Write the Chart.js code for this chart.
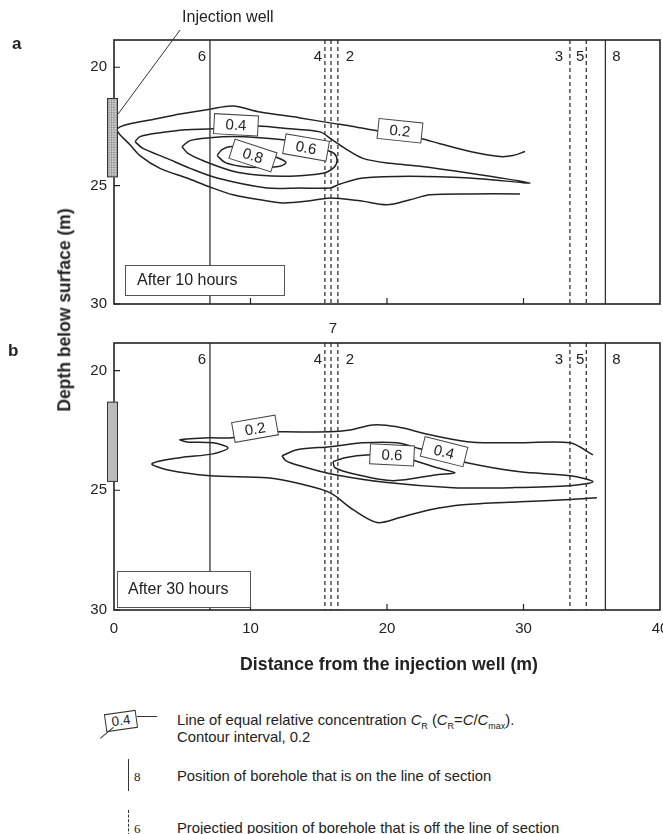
<!DOCTYPE html>
<html><head><meta charset="utf-8">
<script src="https://cdn.jsdelivr.net/npm/chart.js@4/dist/chart.umd.min.js"></script>
<style>
html,body{margin:0;padding:0;background:#fff;overflow:hidden;width:663px;height:834px;}
body{position:relative;font-family:"Liberation Sans",Arial,Helvetica,sans-serif;color:#222;}
canvas{position:absolute;left:0;}
#cA{top:0;}
#cB{top:320px;}
.t{position:absolute;white-space:nowrap;line-height:1;transform:translateY(-50%);}
.lg{font-size:14.8px;}
.sym{position:absolute;}
</style></head><body>
<canvas id="cA" width="680" height="320"></canvas>
<canvas id="cB" width="680" height="340"></canvas>

<div class="t" style="left:12px;top:43px;font-weight:bold;font-size:17px;">a</div>
<div class="t" style="left:8px;top:350px;font-weight:bold;font-size:17px;">b</div>

<div class="t" style="left:65px;top:310px;font-weight:bold;font-size:17.5px;transform:translate(-50%,-50%) rotate(-90deg);">Depth below surface (m)</div>
<div class="t" style="left:389px;top:665px;font-weight:bold;font-size:17.7px;transform:translate(-50%,-50%);">Distance from the injection well (m)</div>

<!-- legend -->
<div class="sym" style="left:105px;top:712px;width:30px;height:16px;border:1px solid #333;transform:rotate(-8deg);font-size:13.5px;line-height:16px;text-align:center;">0.4</div>
<div class="sym" style="left:137px;top:716px;width:20px;height:0;border-top:1.3px solid #333;"></div>
<div class="sym" style="left:100px;top:738px;width:17px;height:0;border-top:1.3px solid #333;transform-origin:0 0;transform:rotate(-40deg);"></div>
<div class="t lg" style="left:177px;top:720px;">Line of equal relative concentration <i>C</i><sub style="font-size:9px;line-height:0">R</sub> (<i>C</i><sub style="font-size:9px;line-height:0">R</sub>=<i>C</i>/<i>C</i><sub style="font-size:9px;line-height:0">max</sub>).</div>
<div class="t lg" style="left:177px;top:737px;">Contour interval, 0.2</div>

<div class="sym" style="left:128px;top:759px;width:0;height:32px;border-left:1.5px solid #333;"></div>
<div class="t" style="left:134px;top:776px;font-family:'Liberation Serif',serif;font-size:13px;">8</div>
<div class="t lg" style="left:177px;top:776px;">Position of borehole that is on the line of section</div>

<div class="sym" style="left:128px;top:810px;width:0;height:26px;border-left:1.5px dashed #333;"></div>
<div class="t" style="left:134px;top:828px;font-family:'Liberation Serif',serif;font-size:13px;">6</div>
<div class="t lg" style="left:177px;top:828px;">Projectied position of borehole that is off the line of section</div>

<script>
// ---------- axes ----------
const xTicks = [0, 10, 20, 30, 40];
const yTicks = [20, 25, 30];
const distMin = 0, distMax = 40;
const depthMin = 18.85, depthMax = 30;

// ---------- boreholes ----------
const boreholeIds = ['6', '4', '7', '2', '3', '5', '8'];
const boreholeX = [7.03, 15.45, 15.9, 16.4, 33.4, 34.6, 36.0];
const boreholeOnSection = [true, false, false, false, false, false, true];

// ---------- injection well screen (depth, m) ----------
const wellTop = 21.3, wellBottom = 24.65;

// ---------- panel a : after 10 hours ----------
const a02x = [30.11,29.23,28.28,26.08,23.88,22.56,20.95,19.27,17.29,15.82,13.63,10.70,8.72,7.03,4.84,2.64,1.17,0.44,0.22,0.44,1.17,1.90,3.37,5.35,7.03,8.72,10.70,12.38,14.36,15.82,18.02,20.00,21.68,23.15,26.08,29.74];
const a02y = [23.56,23.73,23.77,23.56,23.23,23.02,22.81,22.68,22.48,22.35,22.14,21.89,21.64,21.77,21.98,22.23,22.39,22.52,22.64,22.85,23.27,23.73,24.27,24.68,25.06,25.39,25.60,25.73,25.64,25.52,25.64,25.81,25.60,25.39,25.35,25.35];
const a04x = [1.54,1.90,3.37,5.20,7.25,8.94,10.55,12.89,15.09,15.97,16.92,18.24,20.22,22.42,26.08,30.48,26.08,21.68,18.24,16.56,15.82,13.63,11.21,7.55,5.57,3.88,2.12,1.54];
const a04y = [23.14,22.93,22.77,22.64,22.60,22.52,22.48,22.60,22.73,23.06,23.43,23.85,24.06,24.18,24.48,24.89,24.68,24.60,24.68,24.93,25.10,25.10,25.10,24.68,24.27,23.85,23.43,23.14];
const a06x = [4.98,5.57,7.03,8.72,10.70,12.89,14.07,15.46,16.12,16.34,16.12,15.31,12.89,10.70,8.72,6.67,5.42,4.98];
const a06y = [23.35,23.10,22.98,22.93,22.98,23.10,23.27,23.48,23.64,23.93,24.23,24.48,24.60,24.56,24.39,23.98,23.64,23.35];
const a08x = [7.55,7.91,8.64,10.33,11.94,12.60,12.16,10.70,9.23,8.13,7.55];
const a08y = [23.73,23.48,23.35,23.52,23.81,24.02,24.18,24.23,24.18,24.02,23.73];
const aLabelText = ['0.4', '0.8', '0.6', '0.2'];
const aLabelX = [8.94, 10.18, 14.07, 20.95];
const aLabelY = [22.43, 23.73, 23.39, 22.68];

// ---------- panel b : after 30 hours ----------
const b02x = [35.09,33.41,29.74,26.08,23.15,20.73,18.97,17.29,15.82,12.01,10.33,8.64,7.03,4.84,5.35,7.25,8.35,7.25,4.84,2.78,3.88,7.03,11.21,13.63,15.82,17.51,19.27,20.95,23.15,25.57,29.74,33.41,35.38];
const b02y = [23.52,23.02,23.02,22.98,22.68,22.35,22.27,22.48,22.56,22.56,22.60,22.81,22.81,22.89,22.98,23.02,23.23,23.48,23.64,23.89,24.14,24.39,24.48,24.73,25.10,25.81,26.35,26.14,25.81,25.60,25.48,25.39,25.31];
const b04x = [12.31,13.41,15.82,18.24,20.73,22.42,24.25,25.86,29.74,33.41,35.09,33.41,29.23,24.84,20.00,15.82,13.63,12.60,12.31];
const b04y = [23.56,23.31,23.18,23.02,23.02,23.27,23.56,23.85,24.23,24.39,24.64,24.81,24.89,24.89,24.68,24.31,23.98,23.77,23.56];
const b06x = [16.04,16.92,18.75,20.59,22.05,23.66,24.98,23.66,20.44,17.51,16.19,16.04];
const b06y = [23.81,23.64,23.52,23.52,23.77,24.06,24.27,24.35,24.60,24.31,24.06,23.81];
const bLabelText = ['0.2', '0.6', '0.4'];
const bLabelX = [10.33, 20.37, 24.18];
const bLabelY = [22.43, 23.52, 23.39];

// ---------- drawing ----------
const INK = '#222';
Chart.defaults.font.family = "'Liberation Sans', Arial, Helvetica, sans-serif";
Chart.defaults.color = INK;

const pts = (xs, ys) => xs.map((v, i) => ({x: v, y: ys[i]}));

function boreholeSets() {
  return boreholeX.map((bx, i) => ({
    data: [{x: bx, y: depthMin}, {x: bx, y: depthMax}],
    showLine: true, pointRadius: 0, borderColor: '#333', borderWidth: 1.3,
    borderDash: boreholeOnSection[i] ? [] : [4, 3], tension: 0
  }));
}
function contourSet(xs, ys) {
  return {data: pts(xs, ys), showLine: true, pointRadius: 0, borderColor: INK,
          borderWidth: 1.5, tension: 0.3, fill: false};
}

const labelOffset = {'6': -8, '4': -7, '2': 12, '3': -11, '5': -6, '8': 11, '7': 2};

function decoPlugin(o) {
  return {
    id: 'deco' + o.name,
    afterDatasetsDraw(chart) {
      const {ctx, chartArea: ca, scales: {x, y}} = chart;
      ctx.save();
      // frame
      ctx.strokeStyle = INK; ctx.lineWidth = 1.6;
      ctx.strokeRect(ca.left, ca.top, ca.right - ca.left, ca.bottom - ca.top);
      // inward ticks
      ctx.lineWidth = 1.2; ctx.beginPath();
      xTicks.forEach(v => { if (v > distMin && v < distMax) { const p = x.getPixelForValue(v); ctx.moveTo(p, ca.bottom); ctx.lineTo(p, ca.bottom - 6); } });
      yTicks.forEach(v => { const p = y.getPixelForValue(v); ctx.moveTo(ca.left, p); ctx.lineTo(ca.left + 6, p); });
      ctx.stroke();
      // injection well screen
      const w0 = x.getPixelForValue(0);
      const wl = w0 - 7, wr = w0 + 4, wt = y.getPixelForValue(wellTop), wb = y.getPixelForValue(wellBottom);
      ctx.fillStyle = o.hatch ? '#d0d0d0' : '#bcbcbc';
      ctx.fillRect(wl, wt, wr - wl, wb - wt);
      if (o.hatch) {
        ctx.strokeStyle = '#8a8a8a'; ctx.lineWidth = 0.6; ctx.beginPath();
        for (let yy = wt + 2; yy < wb; yy += 2.5) { ctx.moveTo(wl, yy); ctx.lineTo(wr, yy); }
        for (let xx = wl + 2; xx < wr; xx += 2.5) { ctx.moveTo(xx, wt); ctx.lineTo(xx, wb); }
        ctx.stroke();
      }
      ctx.strokeStyle = '#333'; ctx.lineWidth = 1;
      ctx.strokeRect(wl + 0.5, wt + 0.5, wr - wl - 1, wb - wt - 1);
      // contour labels
      ctx.font = "15px 'Liberation Sans', Arial, sans-serif";
      ctx.textAlign = 'center'; ctx.textBaseline = 'middle';
      o.labels.t.forEach((txt, i) => {
        const cx = x.getPixelForValue(o.labels.x[i]), cy = y.getPixelForValue(o.labels.y[i]);
        ctx.save(); ctx.translate(cx, cy); ctx.rotate(o.angles[i] * Math.PI / 180);
        ctx.fillStyle = '#fff'; ctx.fillRect(-22, -10, 44, 20);
        ctx.strokeStyle = '#444'; ctx.lineWidth = 1; ctx.strokeRect(-22, -10, 44, 20);
        ctx.fillStyle = INK; ctx.fillText(txt, 0, 1);
        ctx.restore();
      });
      // time box
      const tb = o.timeBox;
      ctx.fillStyle = '#fff'; ctx.fillRect(ca.left + tb.dx, ca.bottom - tb.dy, tb.w, tb.h);
      ctx.strokeStyle = '#555'; ctx.lineWidth = 1;
      ctx.strokeRect(ca.left + tb.dx + 0.5, ca.bottom - tb.dy + 0.5, tb.w, tb.h);
      ctx.fillStyle = INK; ctx.textAlign = 'left'; ctx.font = "16px 'Liberation Sans', Arial, sans-serif";
      ctx.fillText(o.timeText, ca.left + tb.dx + tb.tx, ca.bottom - tb.dy + tb.h / 2 + 1);
      // borehole numbers
      ctx.textAlign = 'center'; ctx.font = "15px 'Liberation Sans', Arial, sans-serif";
      boreholeIds.forEach((id, i) => {
        const px = x.getPixelForValue(boreholeX[i]) + labelOffset[id];
        if (id === '7') { if (o.show7) ctx.fillText(id, px, ca.top - 14); return; }
        ctx.fillText(id, px, ca.top + 17);
      });
      // injection well label
      if (o.wellLabel) {
        const sx = wr, sy = y.getPixelForValue(21.98);
        const ex = x.getPixelForValue(4.84), ey = ca.top - 10;
        ctx.strokeStyle = '#333'; ctx.lineWidth = 1; ctx.beginPath();
        ctx.moveTo(sx, sy); ctx.lineTo(ex, ey); ctx.stroke();
        ctx.textAlign = 'left'; ctx.font = "16px 'Liberation Sans', Arial, sans-serif";
        ctx.fillText('Injection well', ex + 2, ca.top - 22);
      }
      ctx.restore();
    }
  };
}

function makeChart(id, datasets, pad, showX, plugin) {
  return new Chart(document.getElementById(id), {
    type: 'scatter',
    data: {datasets},
    options: {
      responsive: false, animation: false,
      layout: {padding: pad},
      plugins: {legend: {display: false}, tooltip: {enabled: false}},
      scales: {
        x: {type: 'linear', min: distMin, max: distMax,
            afterBuildTicks: s => { s.ticks = xTicks.map(v => ({value: v})); },
            afterFit: s => { s.height = showX ? 30 : 0; },
            grid: {display: false, drawTicks: false}, border: {display: false},
            ticks: {display: showX, padding: 10, font: {size: 15}, color: INK, maxRotation: 0}},
        y: {type: 'linear', reverse: true, min: depthMin, max: depthMax,
            afterBuildTicks: s => { s.ticks = yTicks.map(v => ({value: v})); },
            afterFit: s => { s.width = 114; },
            grid: {display: false, drawTicks: false}, border: {display: false},
            ticks: {padding: 7, font: {size: 15}, color: INK}}
      }
    },
    plugins: [plugin]
  });
}

makeChart('cA',
  [...boreholeSets(), contourSet(a02x, a02y), contourSet(a04x, a04y), contourSet(a06x, a06y), contourSet(a08x, a08y)],
  {left: 0, top: 40, right: 20, bottom: 13}, false,
  decoPlugin({name: 'A', hatch: true, labels: {t: aLabelText, x: aLabelX, y: aLabelY}, angles: [3, 18, 10, 6],
    timeText: 'After 10 hours', timeBox: {dx: 11, dy: 39, w: 159, h: 30, tx: 12}, show7: false, wellLabel: true}));

makeChart('cB',
  [...boreholeSets(), contourSet(b02x, b02y), contourSet(b04x, b04y), contourSet(b06x, b06y)],
  {left: 0, top: 23, right: 20, bottom: 20}, true,
  decoPlugin({name: 'B', hatch: false, labels: {t: bLabelText, x: bLabelX, y: bLabelY}, angles: [-10, 3, 14],
    timeText: 'After 30 hours', timeBox: {dx: 3, dy: 39, w: 133, h: 36, tx: 11}, show7: true, wellLabel: false}));
</script>
</body></html>
